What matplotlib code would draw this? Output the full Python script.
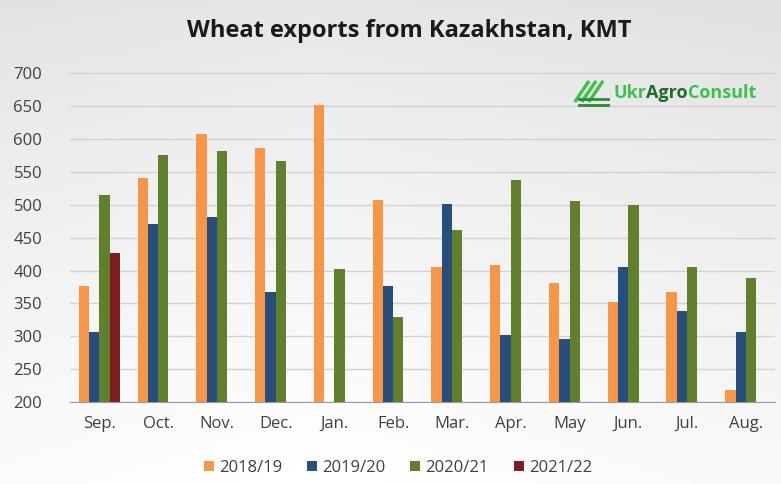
import numpy as np
import matplotlib.pyplot as plt

months = ["Sep.", "Oct.", "Nov.", "Dec.", "Jan.", "Feb.", "Mar.", "Apr.", "May", "Jun.", "Jul.", "Aug."]
seasons = ["2018/19", "2019/20", "2020/21", "2021/22"]

s2018 = [377, 540, 608, 587, 652, 508, 405, 408, 381, 352, 367, 219]
s2019 = [307, 471, 481, 368, np.nan, 376, 501, 302, 296, 405, 339, 307]
s2020 = [515, 576, 582, 566, 403, 329, 461, 537, 505, 499, 405, 388]
s2021 = [426, np.nan, np.nan, np.nan, np.nan, np.nan, np.nan, np.nan, np.nan, np.nan, np.nan, np.nan]

colors = ["#f79646", "#284e7c", "#61802d", "#7e1e22"]
series = [s2018, s2019, s2020, s2021]

fig = plt.figure(figsize=(7.81, 4.84), dpi=100)

# soft grey background, darker at the top
bg = fig.add_axes([0, 0, 1, 1], zorder=-10)
yy = np.linspace(0, 1, 200)[:, None]
xx = np.linspace(0, 1, 300)[None, :]
shade = 0.88 + 0.10 * yy ** 0.8 + 0.02 * (1 - np.abs(xx - 0.4) * 2)
bg.imshow(shade, cmap="gray", vmin=0, vmax=1, aspect="auto", extent=[0, 1, 0, 1], origin="upper")
bg.axis("off")

ax = fig.add_axes([0.0896, 0.169, 0.903, 0.707])
ax.patch.set_alpha(0)

x = np.arange(len(months))
w = 0.175
for i, (vals, c, lab) in enumerate(zip(series, colors, seasons)):
    v = np.array(vals, dtype=float)
    ax.bar(x + (i - 1.5) * w, v - 200, width=w, bottom=200, color=c, label=lab, zorder=3)

ax.set_ylim(200, 720)
ax.set_xlim(-0.5, 11.5)
ax.set_yticks(range(200, 701, 50))
ax.set_xticks(x)
ax.set_xticklabels(months)
ax.grid(axis="y", color="#d2d2d2", linewidth=1, zorder=0)
for sp in ["top", "right", "left"]:
    ax.spines[sp].set_visible(False)
ax.spines["bottom"].set_color("#9a9a9a")
ax.tick_params(length=0, labelsize=12, colors="#404040", labelfontfamily="Open Sans")
ax.tick_params(axis="y", pad=20)
ax.tick_params(axis="x", pad=10)

fig.text(0.524, 0.936, "Wheat exports from Kazakhstan, KMT", ha="center", va="center",
         fontsize=17, fontweight="bold", family="Open Sans", color="#1a1a1a")

leg = ax.legend(loc="upper center", bbox_to_anchor=(0.465, -0.125), ncol=4, frameon=False,
                handlelength=0.6, handleheight=0.6, handletextpad=0.3, columnspacing=1.5,
                prop={"family": "Open Sans", "size": 12})
for t in leg.get_texts():
    t.set_color("#404040")

# logo
lx, ly = 0.737, 0.808
for k in range(3):
    fig.add_artist(plt.Line2D([lx + k * 0.009, lx + k * 0.009 + 0.016], [ly - 0.016, ly + 0.022],
                              color="#3cc24a", linewidth=2.4))
for yo in [-0.012, -0.024]:
    fig.add_artist(plt.Line2D([lx + 0.004, lx + 0.042], [ly + yo, ly + yo], color="#2a8a35", linewidth=2))
t1 = fig.text(0.785, ly, "Ukr", ha="left", va="center", fontsize=13, fontweight="bold",
              family="Open Sans", color="#3cc24a")
fig.canvas.draw()
r = fig.canvas.get_renderer()
bb = t1.get_window_extent(r)
t2 = fig.text(bb.x1 / fig.bbox.width, ly, "Agro", ha="left", va="center", fontsize=13,
              fontweight="bold", family="Open Sans", color="#1f6b2a")
bb = t2.get_window_extent(r)
fig.text(bb.x1 / fig.bbox.width, ly, "Consult", ha="left", va="center", fontsize=13,
         fontweight="bold", family="Open Sans", color="#3cc24a")

fig.savefig("out.png", dpi=100)
